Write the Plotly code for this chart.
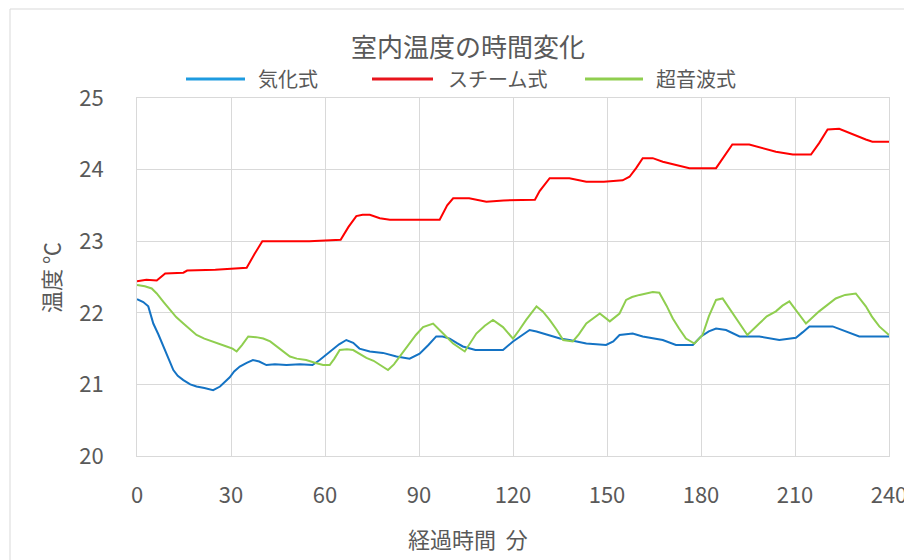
import plotly.graph_objects as go

# ---- data ----
title_text = "室内温度の時間変化"
series_names = ["気化式", "スチーム式", "超音波式"]
x_ticks = [0, 30, 60, 90, 120, 150, 180, 210, 240]
y_ticks = [20, 21, 22, 23, 24, 25]

t_blue = [0, 2, 3.6, 5.2, 6.8, 8.4, 10, 11.6, 13, 14.8, 17, 19, 21.5, 24.3, 26.5, 28, 29.6, 31, 32.8, 35, 37,
          39, 41.3, 44, 47.7, 52, 56, 58.3, 60.5, 62.6, 64.5, 66.8, 69, 71, 74.3, 78.5, 82.8, 87, 90.2, 93,
          95.5, 97.5, 99.8, 102, 104, 108, 112, 116.8, 120, 122.5, 125.3, 127.5, 129.6, 132, 135, 138, 143.4,
          149.7, 152, 154, 158.2, 161.4, 167.8, 172, 177.4, 180, 182.5, 184.8, 188, 192.3, 198.6, 205, 210.3,
          212.5, 214.6, 222, 226.3, 230.5, 235, 240]
v_blue = [22.19, 22.15, 22.09, 21.85, 21.7, 21.53, 21.36, 21.2, 21.12, 21.06, 21.0, 20.97, 20.95, 20.92, 20.97,
          21.03, 21.1, 21.18, 21.25, 21.3, 21.34, 21.32, 21.27, 21.28, 21.27, 21.28, 21.27, 21.34, 21.42, 21.5,
          21.56, 21.62, 21.58, 21.5, 21.46, 21.44, 21.39, 21.36, 21.43, 21.55, 21.67, 21.67, 21.64, 21.58, 21.53,
          21.48, 21.48, 21.48, 21.6, 21.68, 21.76, 21.74, 21.71, 21.68, 21.64, 21.62, 21.57, 21.55, 21.6, 21.69,
          21.71, 21.67, 21.62, 21.55, 21.55, 21.67, 21.74, 21.78, 21.76, 21.67, 21.67, 21.62, 21.65, 21.73,
          21.81, 21.81, 21.74, 21.67, 21.67, 21.67]

t_red = [0, 3, 6.3, 8, 9, 14.8, 16, 25, 35, 37.5, 40, 45, 55, 65, 67.5, 70, 72, 74.3, 77.5, 80.7, 90, 96.6, 99,
         100.9, 106, 111.5, 117, 127, 128.5, 131.7, 138, 143.4, 149, 155, 157.2, 159.3, 161.4, 164.6, 167.8,
         172, 176.3, 184.8, 186.9, 190, 195.4, 199.7, 203.9, 209.3, 215.1, 217.7, 220.4, 224.1, 228.4, 232.6,
         234.7, 240]
v_red = [22.44, 22.46, 22.45, 22.52, 22.55, 22.56, 22.59, 22.6, 22.63, 22.82, 23.0, 23.0, 23.0, 23.02, 23.2,
         23.35, 23.37, 23.37, 23.32, 23.3, 23.3, 23.3, 23.5, 23.6, 23.6, 23.55, 23.57, 23.58, 23.7, 23.88, 23.88,
         23.83, 23.83, 23.85, 23.9, 24.02, 24.16, 24.16, 24.11, 24.07, 24.02, 24.02, 24.16, 24.35, 24.35, 24.3,
         24.25, 24.21, 24.21, 24.37, 24.56, 24.57, 24.49, 24.42, 24.39, 24.39]

t_green = [0, 2.5, 4.7, 6.3, 8.5, 10.5, 12.5, 14.8, 17, 19, 21.5, 24.3, 26.5, 28.6, 30.5, 31.8, 33.5, 35.5, 38,
           40.3, 42.5, 44.5, 46.5, 48.8, 51, 54, 57, 59.4, 61.5, 63, 64.7, 67, 69, 71, 73.2, 75.5, 77.5, 80.1,
           82, 83.9, 85.5, 87, 89, 91.3, 94.5, 97.7, 100.9, 104.6, 106.5, 108.3, 111, 113.6, 116.8, 120, 122,
           124.2, 127.5, 129.5, 131.7, 134, 136, 139.1, 141, 143.4, 147.7, 150.9, 154, 156.1, 158, 160.4, 164.6,
           166.7, 169, 171, 173, 175.2, 177.9, 180.5, 182.5, 184.8, 186.9, 188.5, 190, 192.5, 194.8, 198.6, 201,
           203.9, 206, 208.2, 210.3, 213.5, 217.7, 220, 223, 226, 229.4, 232.6, 234.5, 236.9, 240]
v_green = [22.39, 22.37, 22.34, 22.27, 22.15, 22.04, 21.94, 21.85, 21.76, 21.69, 21.64, 21.6, 21.57, 21.53,
           21.5, 21.46, 21.55, 21.67, 21.66, 21.64, 21.6, 21.53, 21.46, 21.39, 21.36, 21.34, 21.3, 21.27, 21.27,
           21.36, 21.48, 21.49, 21.48, 21.43, 21.37, 21.33, 21.27, 21.2, 21.28, 21.39, 21.48, 21.57, 21.69, 21.8,
           21.85, 21.71, 21.57, 21.46, 21.58, 21.71, 21.82, 21.9, 21.8, 21.64, 21.76, 21.9, 22.09, 22.02, 21.9,
           21.76, 21.62, 21.6, 21.7, 21.85, 21.99, 21.88, 21.99, 22.18, 22.22, 22.25, 22.29, 22.28, 22.1, 21.92,
           21.78, 21.64, 21.57, 21.69, 21.95, 22.18, 22.2, 22.1, 21.99, 21.84, 21.69, 21.85, 21.95, 22.02, 22.1,
           22.16, 22.04, 21.85, 22.02, 22.1, 22.2, 22.25, 22.27, 22.09, 21.95, 21.81, 21.69]

# ---- styling ----
FONT = "Noto Sans CJK JP, Noto Sans, sans-serif"
TXT = "#595959"
GRID = "#d9d9d9"
line_colors = ["#1473c4", "#ff0000", "#8fce4f"]
legend_colors = ["#1e9be0", "#e8141c", "#8fce4f"]

fig = go.Figure()
for name, t, v, c in [(series_names[0], t_blue, v_blue, line_colors[0]),
                      (series_names[1], t_red, v_red, line_colors[1]),
                      (series_names[2], t_green, v_green, line_colors[2])]:
    fig.add_trace(go.Scatter(x=t, y=v, mode="lines", name=name,
                             line=dict(color=c, width=2), showlegend=False))

# page body has an 8px margin: work in screen pixels, convert to figure pixels
OFF = 8
SW, SH = 912, 560
W, H = SW - OFF, SH - OFF
L, R, T, B = 137 - OFF, 889 - OFF, 98 - OFF, 456 - OFF

def px(xs):
    return (xs - OFF - L) / (R - L)
def py(ys):
    return (B - (ys - OFF)) / (B - T)

shapes = [
    # outer chart border (top & left)
    dict(type="line", xref="paper", yref="paper", x0=px(10), x1=px(940), y0=py(9), y1=py(9),
         line=dict(color=GRID, width=1)),
    dict(type="line", xref="paper", yref="paper", x0=px(10), x1=px(10), y0=py(9), y1=py(620),
         line=dict(color=GRID, width=1)),
]
annotations = [
    dict(text=title_text, xref="paper", yref="paper", x=px(468), y=py(45), showarrow=False,
         xanchor="center", yanchor="middle", font=dict(family=FONT, size=26, color=TXT)),
    dict(text="温度 ℃", xref="paper", yref="paper", x=px(50), y=py(278), showarrow=False, textangle=-90,
         xanchor="center", yanchor="middle", font=dict(family=FONT, size=22, color=TXT)),
    dict(text="経過時間  分", xref="paper", yref="paper", x=px(468), y=py(538), showarrow=False,
         xanchor="center", yanchor="middle", font=dict(family=FONT, size=22, color=TXT)),
]
# custom legend
leg_items = [(186, 245, 256), (372, 433, 446), (585, 643, 654)]
for (a, b, tx), name, c in zip(leg_items, series_names, legend_colors):
    shapes.append(dict(type="line", xref="paper", yref="paper", x0=px(a), x1=px(b), y0=py(79), y1=py(79),
                       line=dict(color=c, width=3)))
    annotations.append(dict(text=name, xref="paper", yref="paper", x=px(tx), y=py(79), showarrow=False,
                            xanchor="left", yanchor="middle", font=dict(family=FONT, size=20, color=TXT)))

fig.update_layout(
    template="none",
    width=W, height=H,
    margin=dict(l=L, r=W - R, t=T, b=H - B, pad=0, autoexpand=False),
    paper_bgcolor="white", plot_bgcolor="white",
    shapes=shapes, annotations=annotations,
    showlegend=False,
    font=dict(family=FONT, color=TXT),
)
fig.update_xaxes(range=[0, 240], tickvals=x_ticks, showgrid=True, gridcolor=GRID, gridwidth=1,
                 showline=True, linecolor=GRID, linewidth=1, mirror=True, zeroline=False, automargin=False,
                 ticks="", tickfont=dict(family=FONT, size=22, color=TXT), ticklabelstandoff=20)
fig.update_yaxes(range=[20, 25], tickvals=y_ticks, showgrid=True, gridcolor=GRID, gridwidth=1,
                 showline=True, linecolor=GRID, linewidth=1, mirror=True, zeroline=False, automargin=False,
                 ticks="", tickfont=dict(family=FONT, size=22, color=TXT), ticklabelstandoff=28)

fig.write_html("out.html")
